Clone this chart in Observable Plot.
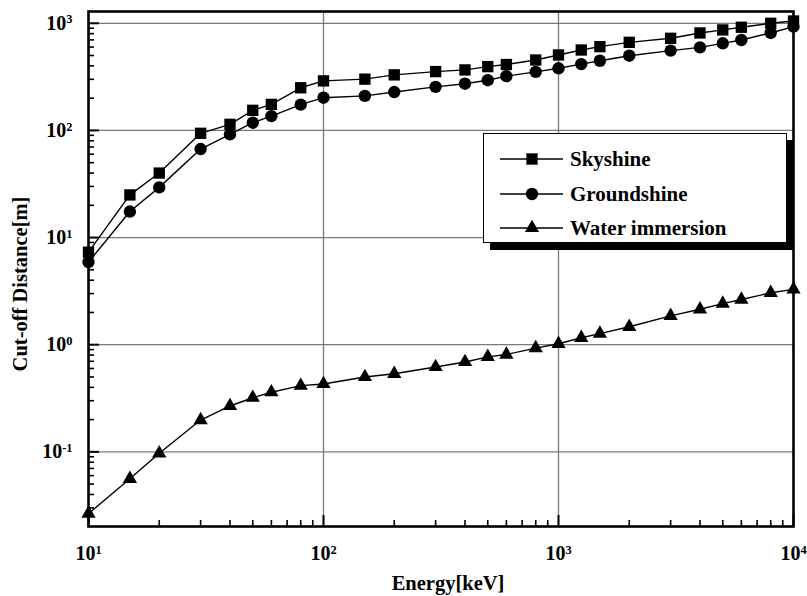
<!DOCTYPE html>
<html><head><meta charset="utf-8">
<script src="https://cdn.jsdelivr.net/npm/d3@7"></script>
<script src="https://cdn.jsdelivr.net/npm/@observablehq/plot@0.6"></script>
<style>
body{margin:0;background:#fff;}
#wrap{position:relative;width:807px;height:596px;}
#legend{position:absolute;left:483px;top:133px;width:302px;height:108px;border:1px solid #000;background:#fff;box-shadow:7px 7px 0 #000;}
</style></head><body><div id="wrap"><div id="legend"></div></div>
<script>
// ---- data ----
const energies = [10,15,20,30,40,50,60,80,100,150,200,300,400,500,600,800,1000,1250,1500,2000,3000,4000,5000,6000,8000,10000];
const skyshine = [7.3,25,40,94,114,154,175,250,290,301,330,354,367,394,412,454,506,563,605,664,724,812,867,918,1000,1050];
const groundshine = [5.9,17.5,29.4,67,92,118,136,174,202,210,228,255,273,294,321,352,380,416,447,498,555,596,650,698,812,930];
const waterImmersion = [0.0265,0.056,0.097,0.198,0.268,0.32,0.36,0.415,0.43,0.50,0.535,0.62,0.69,0.77,0.81,0.93,1.02,1.16,1.27,1.47,1.86,2.14,2.42,2.64,3.05,3.28];
const seriesNames = ["Skyshine","Groundshine","Water immersion"];
const seriesSymbols = ["square","circle","triangle"];
const xTicks = [10,100,1000,10000];
const xTickLabels = ["10|1","10|2","10|3","10|4"];
const yTicks = [0.1,1,10,100,1000];
const yTickLabels = ["10|-1","10|0","10|1","10|2","10|3"];
const xLabel = "Energy[keV]";
const yLabel = "Cut-off Distance[m]";

const W=807,H=596,mL=88,mR=14,mT=11,mB=70;
const pw=W-mL-mR, ph=H-mT-mB;
const yDomain=[0.0201,1288];
const xMinor=[], yMinor=[];
for (let e=1;e<=3;e++) for (let k=2;k<=9;k++) xMinor.push(k*10**e);
for (let e=-2;e<=3;e++) for (let k=2;k<=9;k++){const v=k*10**e; if(v>yDomain[0]&&v<yDomain[1]) yMinor.push(v);}

const allSeries=[skyshine,groundshine,waterImmersion];
const tables = allSeries.map((vals,s)=>energies.map((e,i)=>({energy:e,value:vals[i],series:seriesNames[s]})));
const rSym = {square:6.4,circle:6.2,triangle:5.3};

const marks = [
  Plot.ruleX([100,1000],{stroke:"#7a7a7a",strokeWidth:1.3}),
  Plot.ruleY(yTicks,{stroke:"#7a7a7a",strokeWidth:1.3}),
  Plot.tickY(yTicks,{y:d=>d,insetRight:pw-11,stroke:"black",strokeWidth:2}),
  Plot.tickY(yMinor,{y:d=>d,insetRight:pw-6,stroke:"black",strokeWidth:1.6}),
  Plot.tickX(xTicks,{x:d=>d,insetTop:ph-11,stroke:"black",strokeWidth:2}),
  Plot.tickX(xMinor,{x:d=>d,insetTop:ph-6,stroke:"black",strokeWidth:1.6}),
];
tables.forEach((t,s)=>{
  marks.push(Plot.line(t,{x:"energy",y:"value",stroke:"black",strokeWidth:1.4}));
  marks.push(Plot.dot(t,{x:"energy",y:"value",symbol:()=>seriesSymbols[s],r:rSym[seriesSymbols[s]],fill:"black",stroke:"none"}));
});
marks.push(
  Plot.frame({stroke:"black",strokeWidth:2.6}),
  Plot.axisX({ticks:xTicks,tickSize:0,tickPadding:19,fontSize:20,tickFormat:d=>xTickLabels[xTicks.indexOf(d)],label:null}),
  Plot.axisY({ticks:yTicks,tickSize:0,tickPadding:16,fontSize:20,tickFormat:d=>yTickLabels[yTicks.indexOf(d)],label:null}),
  Plot.text([xLabel],{text:d=>d,frameAnchor:"bottom",textAnchor:"middle",dx:7,dy:63,fontSize:20.5}),
  Plot.text([yLabel],{text:d=>d,frameAnchor:"left",textAnchor:"middle",rotate:-90,dx:-68,dy:15,fontSize:20.5})
);

const chart = Plot.plot({
  width:W,height:H,marginLeft:mL,marginRight:mR,marginTop:mT,marginBottom:mB,
  style:{fontFamily:"'Liberation Serif', serif",fontSize:"20px",fontWeight:"bold",background:"white",color:"black"},
  x:{type:"log",domain:[10,10000]},
  y:{type:"log",domain:yDomain},
  marks
});
const ns="http://www.w3.org/2000/svg";
chart.querySelectorAll('g[aria-label="x-axis tick label"] text, g[aria-label="y-axis tick label"] text').forEach(t=>{
  const s=t.textContent; if(!s.includes("|")) return;
  const [b,e]=s.split("|");
  t.textContent="";
  const a=document.createElementNS(ns,"tspan"); a.textContent=b; t.appendChild(a);
  const p=document.createElementNS(ns,"tspan"); p.textContent=e; p.setAttribute("dy","-0.5em"); p.setAttribute("font-size","0.62em"); t.appendChild(p);
});
document.getElementById("wrap").prepend(chart);

// legend
const lg=d3.select("#legend").append("svg").attr("width",302).attr("height",108)
  .style("font-family","'Liberation Serif', serif").style("font-weight","bold").style("font-size","21px");
const rowsY=[25,60,94];
seriesNames.forEach((n,i)=>{
  const g=lg.append("g").attr("transform",`translate(0,${rowsY[i]})`);
  g.append("line").attr("x1",16).attr("x2",79).attr("stroke","black").attr("stroke-width",1.4);
  const sym={square:d3.symbolSquare,circle:d3.symbolCircle,triangle:d3.symbolTriangle}[seriesSymbols[i]];
  const r=rSym[seriesSymbols[i]];
  g.append("path").attr("d",d3.symbol(sym,Math.PI*r*r)()).attr("transform","translate(48,0)").attr("fill","black");
  g.append("text").attr("x",86).attr("dy","0.35em").text(n);
});
</script>
</body></html>
